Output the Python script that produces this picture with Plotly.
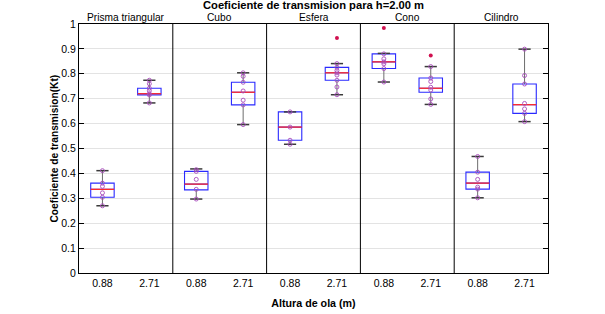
import plotly.graph_objects as go

# ---- data ----
shapes_names = ["Prisma triangular", "Cubo", "Esfera", "Cono", "Cilindro"]
wave_heights = ["0.88", "2.71"]

q1 = [0.304, 0.715, 0.334, 0.675, 0.533, 0.774, 0.821, 0.726, 0.337, 0.641]
median = [0.336, 0.720, 0.357, 0.726, 0.586, 0.804, 0.848, 0.742, 0.361, 0.676]
q3 = [0.361, 0.742, 0.408, 0.766, 0.647, 0.826, 0.880, 0.783, 0.405, 0.759]
whisk_lo = [0.270, 0.683, 0.297, 0.596, 0.517, 0.716, 0.767, 0.677, 0.302, 0.608]
whisk_hi = [0.411, 0.774, 0.418, 0.804, 0.647, 0.841, 0.882, 0.829, 0.468, 0.899]

points = [
    [0.411, 0.361, 0.348, 0.322, 0.304, 0.270],
    [0.774, 0.760, 0.742, 0.732, 0.720, 0.715, 0.683],
    [0.415, 0.408, 0.376, 0.336, 0.297],
    [0.804, 0.790, 0.766, 0.731, 0.694, 0.675, 0.596],
    [0.647, 0.586, 0.533, 0.517],
    [0.841, 0.826, 0.813, 0.804, 0.795, 0.774, 0.747, 0.716],
    [0.880, 0.860, 0.848, 0.840, 0.821, 0.767],
    [0.829, 0.783, 0.769, 0.746, 0.735, 0.699, 0.677],
    [0.468, 0.405, 0.376, 0.345, 0.337, 0.302],
    [0.899, 0.793, 0.759, 0.681, 0.659, 0.641, 0.608],
]
outliers = [[], [], [], [], [], [0.944], [0.984], [0.873], [], []]

y_ticks = [0, 0.1, 0.2, 0.3, 0.4, 0.5, 0.6, 0.7, 0.8, 0.9, 1]

# ---- derived positions ----
n_groups = len(shapes_names) * len(wave_heights)
pos = list(range(1, n_groups + 1))
box_half = 0.25
cap_half = 0.13
font_family = "Arial, Liberation Sans, Helvetica, sans-serif"

W, H = 605, 314
ML, MR, MT, MB = 79, 57, 24, 41

fig = go.Figure()

# boxes (blue outline)
fig.add_trace(go.Box(
    x=pos, q1=q1, median=median, q3=q3,
    lowerfence=q1, upperfence=q3,
    width=2 * box_half, whiskerwidth=0,
    line=dict(color="#2a2aff", width=1.1),
    fillcolor="rgba(0,0,0,0)", boxpoints=False, showlegend=False,
    hoverinfo="skip",
))

wx, wy, cx, cy, mx, my = [], [], [], [], [], []
for p, a, b, c, d, m in zip(pos, whisk_lo, q1, q3, whisk_hi, median):
    wx += [p, p, None, p, p, None]
    wy += [a, b, None, c, d, None]
    cx += [p - cap_half, p + cap_half, None, p - cap_half, p + cap_half, None]
    cy += [a, a, None, d, d, None]
    mx += [p - box_half, p + box_half, None]
    my += [m, m, None]

fig.add_trace(go.Scatter(x=wx, y=wy, mode="lines",
                         line=dict(color="#6e6e6e", width=1), showlegend=False,
                         hoverinfo="skip"))
fig.add_trace(go.Scatter(x=cx, y=cy, mode="lines",
                         line=dict(color="#3a3a3a", width=1.5), showlegend=False,
                         hoverinfo="skip"))
fig.add_trace(go.Scatter(x=mx, y=my, mode="lines",
                         line=dict(color="#ff2a2a", width=1.3), showlegend=False,
                         hoverinfo="skip"))

# data points
px, py = [], []
for p, vals in zip(pos, points):
    px += [p] * len(vals)
    py += vals
fig.add_trace(go.Scatter(x=px, y=py, mode="markers",
                         marker=dict(symbol="circle-open", size=4, color="#a84cbc",
                                     line=dict(width=0.9)),
                         showlegend=False))

ox, oy = [], []
for p, vals in zip(pos, outliers):
    ox += [p] * len(vals)
    oy += vals
fig.add_trace(go.Scatter(x=ox, y=oy, mode="markers",
                         marker=dict(symbol="circle", size=4, color="#d0104f"),
                         showlegend=False))

# panel separators and titles
n_h = len(wave_heights)
for i, name in enumerate(shapes_names):
    left = pos[i * n_h] - 0.5
    right = pos[i * n_h + n_h - 1] + 0.5
    if i > 0:
        fig.add_shape(type="line", x0=left, x1=left, y0=0, y1=1,
                      xref="x", yref="paper", line=dict(color="black", width=1))
    fig.add_annotation(x=(left + right) / 2, y=1, xref="x", yref="paper",
                       yanchor="bottom", showarrow=False, text=name,
                       font=dict(size=10.2, color="black", family=font_family),
                       yshift=-1)

# y-axis title as rotated annotation (precise placement)
plot_w = W - ML - MR
fig.add_annotation(x=-(ML - 54) / plot_w, y=0.5, xref="paper", yref="paper",
                   xanchor="center", yanchor="middle", textangle=-90,
                   showarrow=False, text="<b>Coeficiente de transmision(Kt)</b>",
                   font=dict(size=10.2, color="black", family=font_family))

ticktext = [wave_heights[k % n_h] for k in range(n_groups)]

fig.update_layout(
    width=W, height=H,
    margin=dict(l=ML, r=MR, t=MT, b=MB, autoexpand=False),
    paper_bgcolor="white", plot_bgcolor="white",
    font=dict(family=font_family, size=10.5, color="black"),
    title=dict(text="<b>Coeficiente de transmision para h=2.00 m</b>",
               x=(ML + (W - MR)) / 2 / W, xanchor="center",
               y=1 - 5.5 / H, yanchor="middle",
               font=dict(size=11.2, family=font_family, color="black")),
    xaxis=dict(range=[pos[0] - 0.5, pos[-1] + 0.5], tickvals=pos, ticktext=ticktext,
               showgrid=False, zeroline=False, showline=True, linecolor="black",
               linewidth=1, mirror=True, ticks="",
               title=dict(text="<b>Altura de ola (m)</b>", standoff=11,
                          font=dict(size=10.7))),
    yaxis=dict(range=[0, 1], tickvals=y_ticks, showgrid=True, gridcolor="#e3e3e3",
               gridwidth=1, zeroline=False, showline=True, linecolor="black",
               linewidth=1, mirror="ticks", ticks="inside", ticklen=5,
               tickcolor="black"),
)

fig.write_html("out.html", config={"displayModeBar": False},
               post_script="document.body.style.margin='0';")
